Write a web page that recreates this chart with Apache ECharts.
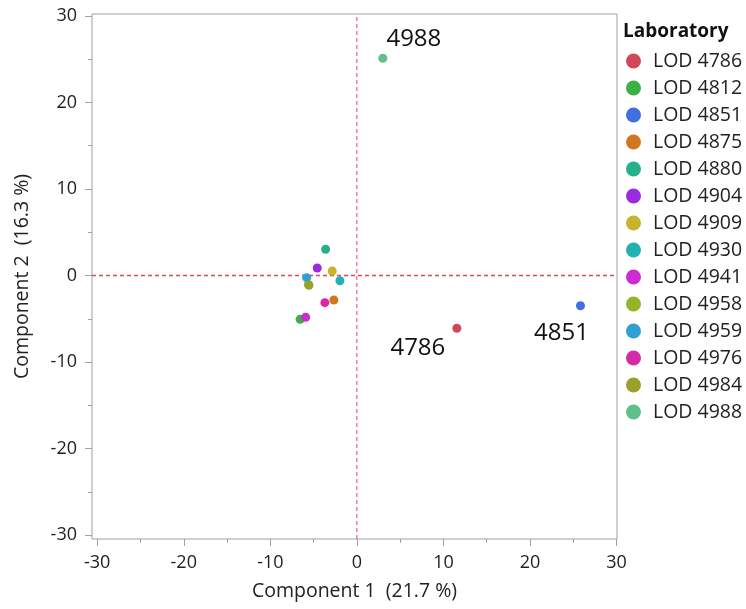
<!DOCTYPE html>
<html>
<head>
<meta charset="utf-8">
<script src="https://cdn.jsdelivr.net/npm/echarts@6/dist/echarts.min.js"></script>
<style>html,body{margin:0;padding:0;background:#fff}#c{width:746px;height:609px}</style>
</head>
<body>
<div id="c"></div>
<script>
const labs = ['LOD 4786','LOD 4812','LOD 4851','LOD 4875','LOD 4880','LOD 4904','LOD 4909','LOD 4930','LOD 4941','LOD 4958','LOD 4959','LOD 4976','LOD 4984','LOD 4988'];
const comp1 = [11.55, -6.55, 25.83, -2.66, -3.61, -4.58, -2.85, -1.96, -5.92, -5.60, -5.81, -3.70, -5.54, 3.00];
const comp2 = [-6.10, -5.06, -3.49, -2.83, 3.03, 0.87, 0.52, -0.60, -4.83, -1.04, -0.25, -3.14, -1.13, 25.12];
const colors = ['#D34858','#3CB043','#3F6FE0','#D2771F','#25AF8A','#9B2BE0','#C8B42A','#22B0B3','#CC2CD0','#96B42A','#2FA0D0','#D42AA8','#9AA02A','#5FC08C'];
const annotated = ['LOD 4786','LOD 4851','LOD 4988'];
const majorTicks = [-30,-20,-10,0,10,20,30];
const minorTicks = [-25,-15,-5,5,15,25];
const xTitle = 'Component 1  (21.7 %)';
const yTitle = 'Component 2  (16.3 %)';
const legendTitle = 'Laboratory';

const FONT = 'Open Sans';
const TXT = '#222';
const AX = '#a0a0a0';
const REF = 'rgb(222,70,90)';
const labelOffsets = {'LOD 4786':[-39,20],'LOD 4851':[-19,27],'LOD 4988':[31,-19]};

const XMIN = -30.6, XMAX = 30.05, YMIN = -30.46, YMAX = 30.23;

function axisBase(extra){
  return Object.assign({type:'value', gridIndex:0, splitLine:{show:false}, splitArea:{show:false},
    axisLine:{show:false, onZero:false}, axisPointer:{show:false}}, extra);
}

const series = [];
// reference lines through the origin, spanning the full axis extents
series.push({type:'line', name:'vRef', data:[[0, YMIN],[0, YMAX]], symbol:'none', silent:true, z:2, animation:false,
  color:REF, itemStyle:{color:REF}, lineStyle:{color:REF, type:[4,3], width:1, opacity:1}, emphasis:{disabled:true}});
series.push({type:'line', name:'hRef', data:[[XMIN, 0],[XMAX, 0]], symbol:'none', silent:true, z:2, animation:false,
  color:REF, itemStyle:{color:REF}, lineStyle:{color:REF, type:[4,3], width:1.3, opacity:1}, emphasis:{disabled:true}});

labs.forEach((name,i)=>{
  const s = {
    type:'scatter', name:name, symbol:'circle', symbolSize:9, z:3,
    itemStyle:{color:colors[i], opacity:1},
    data:[[comp1[i], comp2[i]]],
    label:{show:false}
  };
  if (annotated.includes(name)) {
    s.label = {show:true, position:'inside', offset:labelOffsets[name], formatter:name.replace('LOD ',''),
      fontFamily:FONT, fontSize:24, color:'#111'};
  }
  series.push(s);
});

const chart = echarts.init(document.getElementById('c'), null, {renderer:'canvas'});
chart.setOption({
  animation:false,
  backgroundColor:'#fff',
  tooltip:{show:false},
  title:{text:legendTitle, left:618, top:17, textStyle:{fontFamily:FONT, fontSize:19, fontWeight:'bold', color:'#111'}},
  legend:{orient:'vertical', left:621, top:46, icon:'circle', itemWidth:15, itemHeight:15, itemGap:7,
    textStyle:{fontFamily:FONT, fontSize:19.5, lineHeight:18.5, color:TXT, padding:[0,0,0,7]}, data:labs},
  grid:{left:92, right:129, top:14, bottom:70, show:true, borderColor:AX, borderWidth:1, backgroundColor:'#fff'},
  xAxis:[
    axisBase({position:'bottom', min:XMIN, max:XMAX, name:xTitle, nameLocation:'middle', nameGap:42,
      nameTextStyle:{fontFamily:FONT, fontSize:19.5, color:TXT},
      axisTick:{show:true, length:7, customValues:majorTicks, lineStyle:{color:AX}},
      axisLabel:{show:true, customValues:majorTicks, margin:15, fontFamily:FONT, fontSize:18, color:TXT}}),
    axisBase({position:'bottom', min:XMIN, max:XMAX,
      axisTick:{show:true, length:4, customValues:minorTicks, lineStyle:{color:AX}},
      axisLabel:{show:false}})
  ],
  yAxis:[
    axisBase({position:'left', min:YMIN, max:YMAX, name:yTitle, nameLocation:'middle', nameGap:60,
      nameTextStyle:{fontFamily:FONT, fontSize:19.5, color:TXT},
      axisTick:{show:true, length:7, customValues:majorTicks, lineStyle:{color:AX}},
      axisLabel:{show:true, customValues:majorTicks, margin:15, fontFamily:FONT, fontSize:18, color:TXT}}),
    axisBase({position:'left', min:YMIN, max:YMAX,
      axisTick:{show:true, length:4, customValues:minorTicks, lineStyle:{color:AX}},
      axisLabel:{show:false}})
  ],
  series:series
});
</script>
</body>
</html>
